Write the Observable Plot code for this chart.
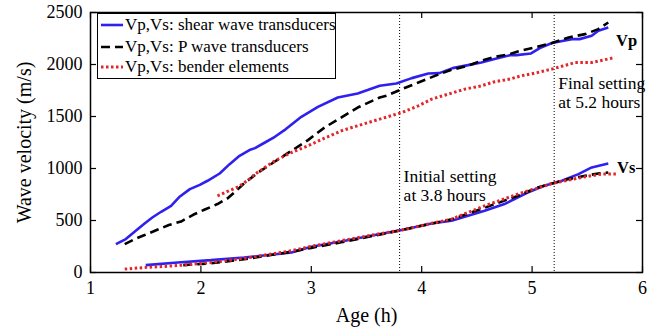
<!DOCTYPE html>
<html><head><meta charset="utf-8">
<script src="https://cdn.jsdelivr.net/npm/d3@7"></script>
<script src="https://cdn.jsdelivr.net/npm/@observablehq/plot@0.6"></script>
<style>
body{margin:0;background:#fff;}
#wrap{position:relative;width:656px;height:331px;font-family:"Liberation Serif","Times New Roman",Times,"DejaVu Serif",serif;}
#legend{position:absolute;left:97px;top:13px;width:237px;height:64px;border:1.5px solid #000;background:#fff;font-size:17px;color:#000;}
.row{position:absolute;left:3px;height:20px;display:flex;align-items:center;white-space:nowrap;}
.row svg{width:22px;height:6px;margin-right:2px;flex:none}
</style></head><body><div id="wrap"><div id="legend"></div></div>
<script>
// ---- data (age in hours, velocity in m/s) ----
const shearVp = [[1.23,273],[1.32,321],[1.41,401],[1.49,471],[1.56,529],[1.64,584],[1.73,641],[1.81,731],[1.90,802],[1.99,843],[2.06,882],[2.17,952],[2.26,1042],[2.35,1122],[2.44,1177],[2.49,1196],[2.58,1250],[2.67,1305],[2.77,1379],[2.91,1497],[3.06,1593],[3.24,1683],[3.42,1721],[3.51,1754],[3.62,1795],[3.77,1817],[3.91,1869],[4.06,1913],[4.16,1917],[4.28,1965],[4.42,1994],[4.54,2019],[4.66,2052],[4.80,2090],[4.86,2090],[4.99,2106],[5.07,2158],[5.18,2206],[5.25,2221],[5.36,2244],[5.43,2244],[5.54,2276],[5.60,2324],[5.69,2356]];
const shearVs = [[1.50,71],[1.79,96],[2.09,119],[2.39,144],[2.82,192],[3.00,247],[3.27,298],[3.54,353],[3.82,408],[4.09,471],[4.27,497],[4.57,593],[4.75,658],[4.96,769],[5.11,834],[5.27,882],[5.42,946],[5.54,1010],[5.69,1048]];
const pWaveVp = [[1.31,273],[1.40,321],[1.49,360],[1.61,413],[1.71,456],[1.82,490],[1.93,555],[2.03,603],[2.15,658],[2.24,712],[2.32,786],[2.39,856],[2.52,962],[2.67,1067],[2.82,1170],[2.97,1273],[3.12,1394],[3.27,1490],[3.42,1586],[3.62,1683],[3.68,1699],[3.82,1763],[3.97,1827],[4.12,1891],[4.27,1949],[4.42,1988],[4.54,2036],[4.66,2074],[4.80,2100],[4.87,2125],[5.02,2163],[5.18,2206],[5.33,2260],[5.48,2292],[5.60,2340],[5.69,2404]];
const pWaveVs = [[1.84,71],[2.09,88],[2.39,127],[2.82,199],[3.00,237],[3.27,290],[3.54,348],[3.82,408],[4.09,471],[4.27,511],[4.57,622],[4.87,737],[5.05,817],[5.18,856],[5.33,898],[5.48,930],[5.60,952],[5.69,962]];
const benderVp = [[2.15,737],[2.24,779],[2.34,824],[2.44,898],[2.49,946],[2.67,1074],[2.82,1154],[2.97,1218],[3.12,1292],[3.27,1362],[3.42,1411],[3.62,1475],[3.82,1538],[3.97,1603],[4.09,1667],[4.24,1715],[4.39,1763],[4.54,1795],[4.66,1834],[4.80,1860],[4.90,1891],[5.05,1923],[5.18,1956],[5.39,2019],[5.54,2019],[5.75,2067]];
const benderVs = [[1.31,33],[1.49,48],[1.67,58],[1.84,71],[2.09,96],[2.39,135],[2.82,209],[3.00,252],[3.27,305],[3.54,358],[3.82,408],[4.09,473],[4.27,513],[4.57,641],[4.87,754],[5.02,802],[5.18,856],[5.33,888],[5.48,920],[5.63,946],[5.78,946]];

const seriesNames = ["Vp,Vs: shear wave transducers","Vp,Vs: P wave transducers","Vp,Vs: bender elements"];
const settingTimes = [3.8, 5.2];
const xTicks = [1,2,3,4,5,6];
const yTicks = [0,500,1000,1500,2000,2500];
const settingNotes = [
  {x:3.8, y:838, text:"Initial setting\nat 3.8 hours"},
  {x:5.2, y:1731, text:"Final setting\nat 5.2 hours"}
];
const curveNotes = [
  {x:5.76, y:2228, text:"Vp"},
  {x:5.77, y:1010, text:"Vs"}
];

// ---- styles ----
const FONT = "'Liberation Serif','Times New Roman',Times,'DejaVu Serif',serif";
const styles = [
  {color:"#3020f0", dash:null, width:2.6},
  {color:"#000000", dash:"9,5", width:2.6},
  {color:"#e3262a", dash:"2.5,2.5", width:3}
];

const toRows = (arr, s, k) => arr.map(([age,v]) => ({age, v, s, key: s + "-" + k}));
const groups = [
  [shearVp, shearVs],
  [pWaveVp, pWaveVs],
  [benderVp, benderVs]
];
const lineMarks = groups.map((g, i) => {
  const rows = [...toRows(g[0], i, "p"), ...toRows(g[1], i, "s")];
  return Plot.line(rows, {x:"age", y:"v", z:"key", stroke:styles[i].color,
    strokeWidth:styles[i].width, strokeDasharray:styles[i].dash, strokeLinecap:"butt", strokeLinejoin:"miter", curve:"linear"});
});

const H = 331, mT = 12, mB = 59, W = 656, mL = 90, mR = 14;
const pH = H - mT - mB, pW = W - mL - mR, tk = 6;

const plot = Plot.plot({
  width:W, height:H, marginLeft:mL, marginRight:mR, marginTop:mT, marginBottom:mB,
  style:{fontFamily:FONT, fontSize:"18px", color:"#000", background:"#fff", overflow:"visible"},
  x:{domain:[1,6]}, y:{domain:[0,2500]},
  marks:[
    Plot.ruleX(settingTimes, {stroke:"#000", strokeWidth:1, strokeDasharray:"1,2"}),
    ...lineMarks,
    Plot.frame({stroke:"#000", strokeWidth:1.5}),
    Plot.tickX(xTicks, {x:d=>d, insetTop:pH - tk, stroke:"#000", strokeWidth:1.2}),
    Plot.tickX(xTicks, {x:d=>d, insetBottom:pH - tk, stroke:"#000", strokeWidth:1.2}),
    Plot.tickY(yTicks, {y:d=>d, insetRight:pW - tk, stroke:"#000", strokeWidth:1.2}),
    Plot.tickY(yTicks, {y:d=>d, insetLeft:pW - tk, stroke:"#000", strokeWidth:1.2}),
    Plot.axisX(xTicks, {tickSize:0, tickPadding:9, fontSize:18, label:null, tickFormat:d3.format("d")}),
    Plot.axisY(yTicks, {tickSize:0, tickPadding:8, fontSize:18, label:null, tickFormat:d3.format("d")}),
    Plot.text(["Age (h)"], {text:d=>d, frameAnchor:"bottom", lineAnchor:"middle", textAnchor:"middle", dy:43, fontSize:20}),
    Plot.text(["Wave velocity (m/s)"], {text:d=>d, frameAnchor:"left", lineAnchor:"middle", textAnchor:"middle", rotate:-90, dx:-66, fontSize:20}),
    Plot.text(settingNotes, {x:"x", y:"y", text:"text", textAnchor:"start", dx:4, lineHeight:1.1, fontSize:17.5, fill:"#000"}),
    Plot.text(curveNotes, {x:"x", y:"y", text:"text", textAnchor:"start", fontSize:16.5, fontWeight:"bold", fill:"#000"})
  ]
});
document.getElementById("wrap").prepend(plot);

// ---- legend ----
const legend = document.getElementById("legend");
const rowTops = [1, 22.5, 43];
seriesNames.forEach((name, i) => {
  const row = document.createElement("div");
  row.className = "row";
  row.style.top = rowTops[i] + "px";
  const st = styles[i];
  row.innerHTML = `<svg viewBox="0 0 22 6"><line x1="0" y1="3" x2="22" y2="3" stroke="${st.color}" stroke-width="${st.width}" ${st.dash ? `stroke-dasharray="${st.dash}"` : ""}/></svg><span>${name}</span>`;
  legend.appendChild(row);
});
</script></body></html>
